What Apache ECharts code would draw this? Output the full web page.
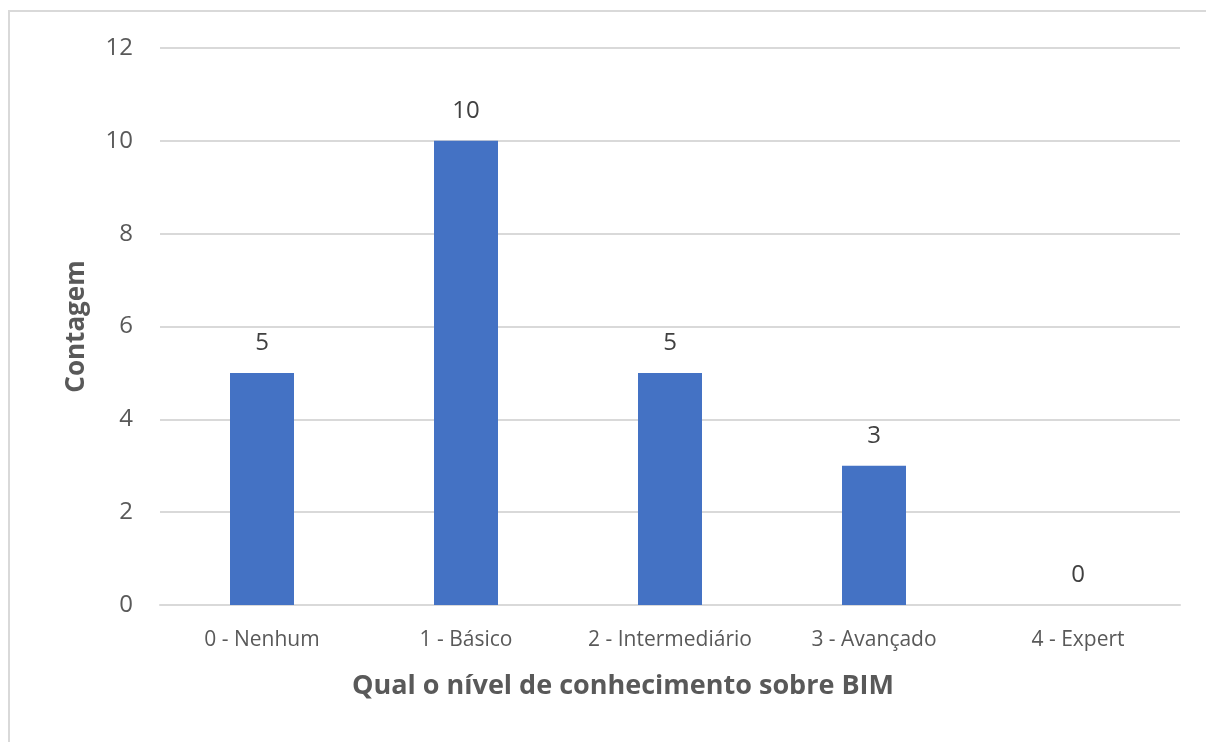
<!DOCTYPE html>
<html>
	<head>
		<meta charset="UTF-8">
		<title>Nível de conhecimento sobre BIM</title>
		<script src="https://cdn.jsdelivr.net/npm/echarts@6/dist/echarts.min.js"></script>
		<style>
			html, body { margin: 0; padding: 0; background: #fff; }
			#frame { position: absolute; left: 8px; top: 10px; width: 1198px; height: 732px;
				border-left: 2px solid #d9d9d9; border-top: 2px solid #d9d9d9; box-sizing: border-box; }
			#chart { position: absolute; left: 0; top: 0; width: 1206px; height: 742px; }
		</style>
	</head>
	<body>
		<div id="frame"></div>
		<div id="chart"></div>
		<script>
			var categories = ['0 - Nenhum', '1 - Básico', '2 - Intermediário', '3 - Avançado', '4 - Expert'];
			var counts = [5, 10, 5, 3, 0];
			var yTicks = [0, 2, 4, 6, 8, 10, 12];

			var font = '"Open Sans", "Noto Sans", sans-serif';
			var chart = echarts.init(document.getElementById('chart'));
			chart.setOption({
				animation: false,
				textStyle: { fontFamily: font },
				grid: { left: 160, right: 26, top: 48, bottom: 137 },
				xAxis: {
					type: 'category',
					data: categories,
					name: 'Qual o nível de conhecimento sobre BIM',
					nameLocation: 'middle',
					nameGap: 68,
					nameTextStyle: { fontSize: 27, fontWeight: 'bold', color: '#595959', fontFamily: font,
						padding: [0, 94, 0, 0] },
					axisLine: { lineStyle: { color: '#d9d9d9', width: 2 } },
					axisTick: { show: false },
					axisLabel: { interval: 0, fontSize: 21, color: '#595959', margin: 25, fontFamily: font }
				},
				yAxis: {
					type: 'value',
					min: yTicks[0],
					max: yTicks[yTicks.length - 1],
					interval: 2,
					name: 'Contagem',
					nameLocation: 'middle',
					nameGap: 70,
					nameTextStyle: { fontSize: 26, fontWeight: 'bold', color: '#595959', fontFamily: font },
					axisLine: { show: false },
					axisTick: { show: false },
					splitLine: { lineStyle: { color: '#d9d9d9', width: 2 } },
					axisLabel: { fontSize: 24, color: '#595959', margin: 27, fontFamily: font }
				},
				series: [{
					type: 'bar',
					data: counts,
					barWidth: 64,
					itemStyle: { color: '#4472c4' },
					label: {
						show: true,
						position: 'top',
						distance: 18,
						fontSize: 24,
						color: '#404040',
						fontFamily: font
					}
				}]
			});
		</script>
	</body>
</html>
